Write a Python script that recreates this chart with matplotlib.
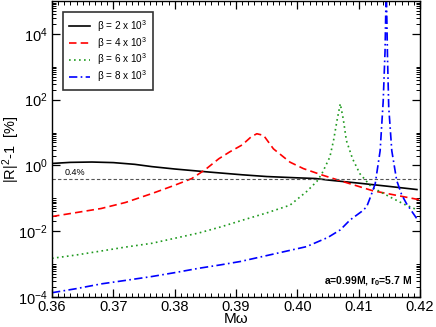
import numpy as np
import matplotlib
matplotlib.use("Agg")
import matplotlib.pyplot as plt
from matplotlib.ticker import FixedLocator, MultipleLocator, NullFormatter

plt.rcParams["font.family"] = ["Liberation Sans", "DejaVu Sans"]
plt.rcParams["mathtext.fontset"] = "custom"
plt.rcParams["mathtext.rm"] = "Liberation Sans"
plt.rcParams["mathtext.it"] = "Liberation Sans:italic"
plt.rcParams["mathtext.bf"] = "Liberation Sans:bold"

# beta = 2e3
x_b2 = [0.360, 0.363, 0.3665, 0.370, 0.3735, 0.3763, 0.380, 0.3856, 0.391,
        0.395, 0.400, 0.403, 0.405, 0.410, 0.415, 0.4195]
y_b2 = [1.15, 1.24, 1.27, 1.22, 1.08, 0.92, 0.78, 0.63, 0.52,
        0.46, 0.42, 0.40, 0.36, 0.29, 0.23, 0.185]

# beta = 4e3
x_b4 = [0.360, 0.364, 0.368, 0.372, 0.3763, 0.380, 0.3828, 0.385, 0.3872,
        0.389, 0.391, 0.3925, 0.3934, 0.3945, 0.3961, 0.3988, 0.401, 0.4042,
        0.408, 0.4123, 0.416, 0.420]
y_b4 = [0.028, 0.037, 0.049, 0.075, 0.14, 0.25, 0.40, 0.75, 1.6,
        2.6, 4.2, 7.5, 9.2, 8.2, 3.2, 1.26, 0.8, 0.5,
        0.3, 0.17, 0.125, 0.09]

# beta = 6e3
x_b6 = [0.360, 0.364, 0.368, 0.372, 0.3763, 0.380, 0.384, 0.3875, 0.391,
        0.395, 0.3988, 0.4015, 0.4032, 0.404, 0.4053, 0.4059, 0.4065, 0.407,
        0.4075, 0.408, 0.409, 0.4102, 0.4121, 0.4151, 0.4175, 0.4195]
y_b6 = [0.0015, 0.0019, 0.0025, 0.0033, 0.0043, 0.0061, 0.0089, 0.0135, 0.0215,
        0.036, 0.062, 0.16, 0.33, 0.56, 1.8, 5.7, 25, 75,
        25, 5.7, 1.6, 0.56, 0.22, 0.11, 0.065, 0.045]

# beta = 8e3
x_b8 = [0.360, 0.364, 0.368, 0.372, 0.3763, 0.380, 0.384, 0.3875, 0.3907,
        0.396, 0.4015, 0.405, 0.407, 0.4086, 0.4105, 0.4113, 0.412, 0.4127,
        0.4135, 0.4140, 0.4143, 0.4145, 0.4147, 0.4149, 0.4154, 0.4162, 0.417,
        0.4178, 0.4197]
y_b8 = [1.35e-4, 1.8e-4, 2.5e-4, 3.2e-4, 4.2e-4, 5.5e-4, 7.5e-4, 9.5e-4, 1.2e-3,
        2.0e-3, 3.4e-3, 6.5e-3, 0.011, 0.022, 0.04, 0.055, 0.12, 0.28,
        2.8, 90, 3000, 3e5, 2000, 60, 2.8, 0.35, 0.13,
        0.069, 0.021]

limit_pct = 0.4
labels = ["\u03b2 = 2 x 10$^{3}$", "\u03b2 = 4 x 10$^{3}$",
          "\u03b2 = 6 x 10$^{3}$", "\u03b2 = 8 x 10$^{3}$"]

fig = plt.figure(figsize=(4.36, 3.27), dpi=100)
ax = fig.add_axes([52/436, 30/327, 368/436, 296/327])

ax.plot(x_b2, y_b2, color="black", lw=1.2, ls="-", label=labels[0])
ax.plot(x_b4, y_b4, color="#ff0000", lw=1.2, ls=(0, (4.5, 2.5)), label=labels[1])
ax.plot(x_b6, y_b6, color="#1f9a1f", lw=1.2, ls=(0, (1, 2)), label=labels[2])
ax.plot(x_b8, y_b8, color="#0000ff", lw=1.2, ls=(0, (5, 2, 1, 2)), label=labels[3])
ax.axhline(limit_pct, color="#555555", lw=0.8, ls=(0, (3, 2)))
ax.text(0.3621, 0.45, "0.4%", fontsize=6.5, ha="left", va="bottom")

ax.set_yscale("log")
ax.set_xlim(0.36, 0.42)
ax.set_ylim(1e-4, 1e5)

xt = [0.36, 0.37, 0.38, 0.39, 0.40, 0.41, 0.42]
ax.set_xticks(xt)
ax.set_xticklabels(["%.2f" % v for v in xt])
ax.xaxis.set_minor_locator(MultipleLocator(0.001))

yt = [1e-4, 1e-2, 1e0, 1e2, 1e4]
ax.yaxis.set_major_locator(FixedLocator(yt))
ax.set_yticklabels(["10$^{-4}$", "10$^{-2}$", "10$^{0}$", "10$^{2}$", "10$^{4}$"])
minor = []
for e in [-4, -2, 0, 2, 4]:
    for k in range(2, 11):
        minor.append(k * 10.0**e)
ax.yaxis.set_minor_locator(FixedLocator(minor))
ax.yaxis.set_minor_formatter(NullFormatter())

ax.tick_params(which="both", direction="in", top=True, right=True, labelsize=10.5)
ax.tick_params(which="major", length=6, width=0.9)
ax.tick_params(which="minor", length=3, width=0.7)
ax.tick_params(axis="x", pad=2)
ax.tick_params(axis="y", pad=3)
for s in ax.spines.values():
    s.set_linewidth(1.0)

ax.set_xlabel("M\u03c9", fontsize=11, labelpad=-1)
ax.set_ylabel("|R|$^{2}$-1  [%]", fontsize=10.5, labelpad=-2.5)

ax.text(0.4188, 1.9e-4, "a=0.99M, r$_{\\mathbf{0}}$=5.7 M", fontsize=7.5,
        fontweight="bold", ha="right", va="bottom")

leg = ax.legend(loc="upper left", bbox_to_anchor=(0.029, 0.963), fontsize=7.2,
                frameon=True, fancybox=False, edgecolor="black",
                handlelength=2.1, handletextpad=0.7, labelspacing=0.1,
                borderpad=0.6, borderaxespad=0)
leg.get_frame().set_linewidth(1.2)

fig.savefig("out.png", dpi=100)
